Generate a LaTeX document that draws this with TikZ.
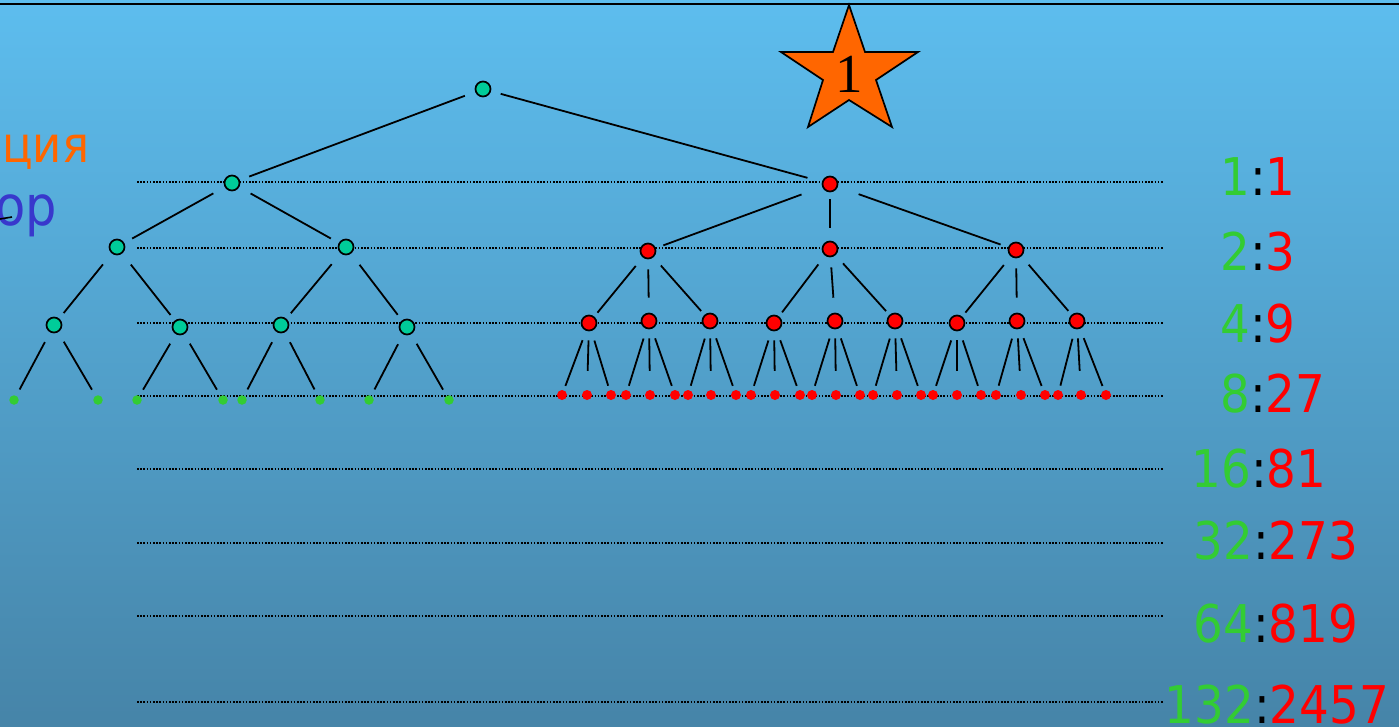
\documentclass[tikz,border=0pt]{standalone}
\usepackage{fontspec}
\setsansfont{DejaVu Sans Condensed}
\newfontfamily\starfont{Liberation Serif}
\definecolor{bgtop}{HTML}{5DBDEE}
\definecolor{bgbot}{HTML}{4684A8}
\definecolor{gnode}{HTML}{00CC99}
\definecolor{gleaf}{HTML}{33CC33}
\definecolor{rnode}{HTML}{FF0000}
\definecolor{orng}{HTML}{FF6600}
\definecolor{blu}{HTML}{3838CC}
\tikzset{
  inner/.style={circle, draw=black, line width=1.7pt, minimum size=15pt, inner sep=0pt},
  gin/.style={inner, fill=gnode},
  rin/.style={inner, fill=rnode},
  gl/.style={circle, fill=gleaf, minimum size=9.5pt, inner sep=0pt},
  rl/.style={circle, fill=rnode, minimum size=10pt, inner sep=0pt},
  edge/.style={draw, line width=1.8pt, shorten <=10pt, shorten >=7pt},
  midedge/.style={edge, shorten <=8pt, shorten >=14pt},
  lout/.style={edge, shorten <=11pt, shorten >=5pt},
  lmid/.style={edge, shorten <=10pt, shorten >=15pt},
  guide/.style={line width=1.3pt, dash pattern=on 1.6pt off 1.6pt},
  lab/.style={font=\sffamily\fontsize{52}{52}\selectfont, anchor=base, inner sep=0pt},
}
\begin{document}
\begin{tikzpicture}[x=1pt,y=1pt]
\useasboundingbox (0,-726) rectangle (1399,0);
\shade[top color=bgtop, bottom color=bgbot] (0,-726) rectangle (1399,0);
\draw[line width=2.8pt] (0,-4) -- (1399,-4);
% guide lines
\foreach \gy in {182,248,323,396,469,543,616,702}{
  \draw[guide] (137,-\gy) -- (1163,-\gy);
}
% star
\draw[fill=orng, line width=1.7pt, line join=miter]
  (849,-5) -- (865,-52) -- (918,-52) -- (876,-80) -- (892,-127) -- (849,-100)
  -- (808,-127) -- (823,-80) -- (781,-52) -- (833,-52) -- cycle;
\node[font=\starfont\fontsize{55}{55}\selectfont, anchor=base, inner sep=0pt] (one) at (849,-92) {1};
% left cut texts
\node[font=\sffamily\fontsize{50}{50}\selectfont, text=orng, anchor=base west, inner sep=0pt] (tA) at (2,-162) {ция};
\node[font=\sffamily\fontsize{55}{55}\selectfont, text=blu, anchor=base east, inner sep=0pt] (tB) at (57,-225) {ор};
\draw[line width=1.6pt] (0,-219) -- (12,-217);
% green tree
\node[gin] (g0) at (483,-89) {};
\node[gin] (g1) at (232,-183) {};
\node[rin] (r1) at (830,-184) {};
\node[gin] (g2a) at (117,-247) {};
\node[gin] (g2b) at (346,-247) {};
\node[gin] (g3a) at (54,-325) {};
\node[gin] (g3b) at (180,-327) {};
\node[gin] (g3c) at (281,-325) {};
\node[gin] (g3d) at (407,-327) {};
\draw[edge, shorten <=11pt, shorten >=10pt] (g0) -- (g1);
\draw[edge, shorten <=10pt, shorten >=15pt] (g0) -- (r1);
\draw[edge, shorten <=13pt, shorten >=9pt] (g1) -- (g2a);
\draw[edge, shorten <=13pt, shorten >=9pt] (g1) -- (g2b);
\foreach \p/\c in {g2a/g3a, g2a/g3b, g2b/g3c, g2b/g3d}{
  \draw[edge, shorten <=14pt, shorten >=7pt] (\p) -- (\c);
}
\foreach \p/\n/\la/\lb in {g3a/a/14/98, g3b/b/137/223, g3c/c/242/320, g3d/d/369/449}{
  \node[gl] (gl\n1) at (\la,-400) {};
  \node[gl] (gl\n2) at (\lb,-400) {};
  \draw[edge, shorten <=11pt, shorten >=7pt] (\p) -- (gl\n1);
  \draw[edge, shorten <=11pt, shorten >=7pt] (\p) -- (gl\n2);
}
% red tree
\node[rin] (r2a) at (648,-251) {};
\node[rin] (r2b) at (830,-249) {};
\node[rin] (r2c) at (1016,-250) {};
\draw[edge, shorten <=22pt, shorten >=8pt] (r1) -- (r2a);
\draw[midedge, shorten <=7pt, shorten >=13pt] (r1) -- (r2b);
\draw[edge, shorten <=22pt, shorten >=8pt] (r1) -- (r2c);
\foreach \p/\k/\n/\x/\y/\la/\lb/\lc in {r2a/lout/a/589/323/562/587/611, r2a/lmid/b/649/321/626/650/675, r2a/lout/c/710/321/688/711/736, r2b/lout/d/774/323/751/775/800, r2b/lmid/e/835/321/812/836/860, r2b/lout/f/895/321/873/897/921, r2c/lout/g/957/323/933/957/981, r2c/lmid/h/1017/321/996/1021/1045, r2c/lout/i/1077/321/1058/1081/1106}{
  \node[rin] (r3\n) at (\x,-\y) {};
  \node[rl] (rl\n1) at (\la,-395) {};
  \node[rl] (rl\n2) at (\lb,-395) {};
  \node[rl] (rl\n3) at (\lc,-395) {};
  \draw[\k] (\p) -- (r3\n);
  \draw[edge, shorten <=10pt, shorten >=4.5pt] (r3\n) -- (rl\n1);
  \draw[midedge, shorten <=9pt, shorten >=19pt] (r3\n) -- (rl\n2);
  \draw[edge, shorten <=10pt, shorten >=4.5pt] (r3\n) -- (rl\n3);
}
% labels
\node[lab] (n1) at (1258,-195) {\llap{\color{gleaf}1}:\rlap{\color{rnode}1}};
\node[lab] (n2) at (1258,-270) {\llap{\color{gleaf}2}:\rlap{\color{rnode}3}};
\node[lab] (n3) at (1258,-342) {\llap{\color{gleaf}4}:\rlap{\color{rnode}9}};
\node[lab] (n4) at (1258,-412) {\llap{\color{gleaf}8}:\rlap{\color{rnode}27}};
\node[lab] (n5) at (1259,-487) {\llap{\color{gleaf}16}:\rlap{\color{rnode}81}};
\node[lab] (n6) at (1261,-559) {\llap{\color{gleaf}32}:\rlap{\color{rnode}273}};
\node[lab] (n7) at (1261,-642) {\llap{\color{gleaf}64}:\rlap{\color{rnode}819}};
\node[lab] (n8) at (1262,-723) {\llap{\color{gleaf}132}:\rlap{\color{rnode}2457}};
\end{tikzpicture}
\end{document}
